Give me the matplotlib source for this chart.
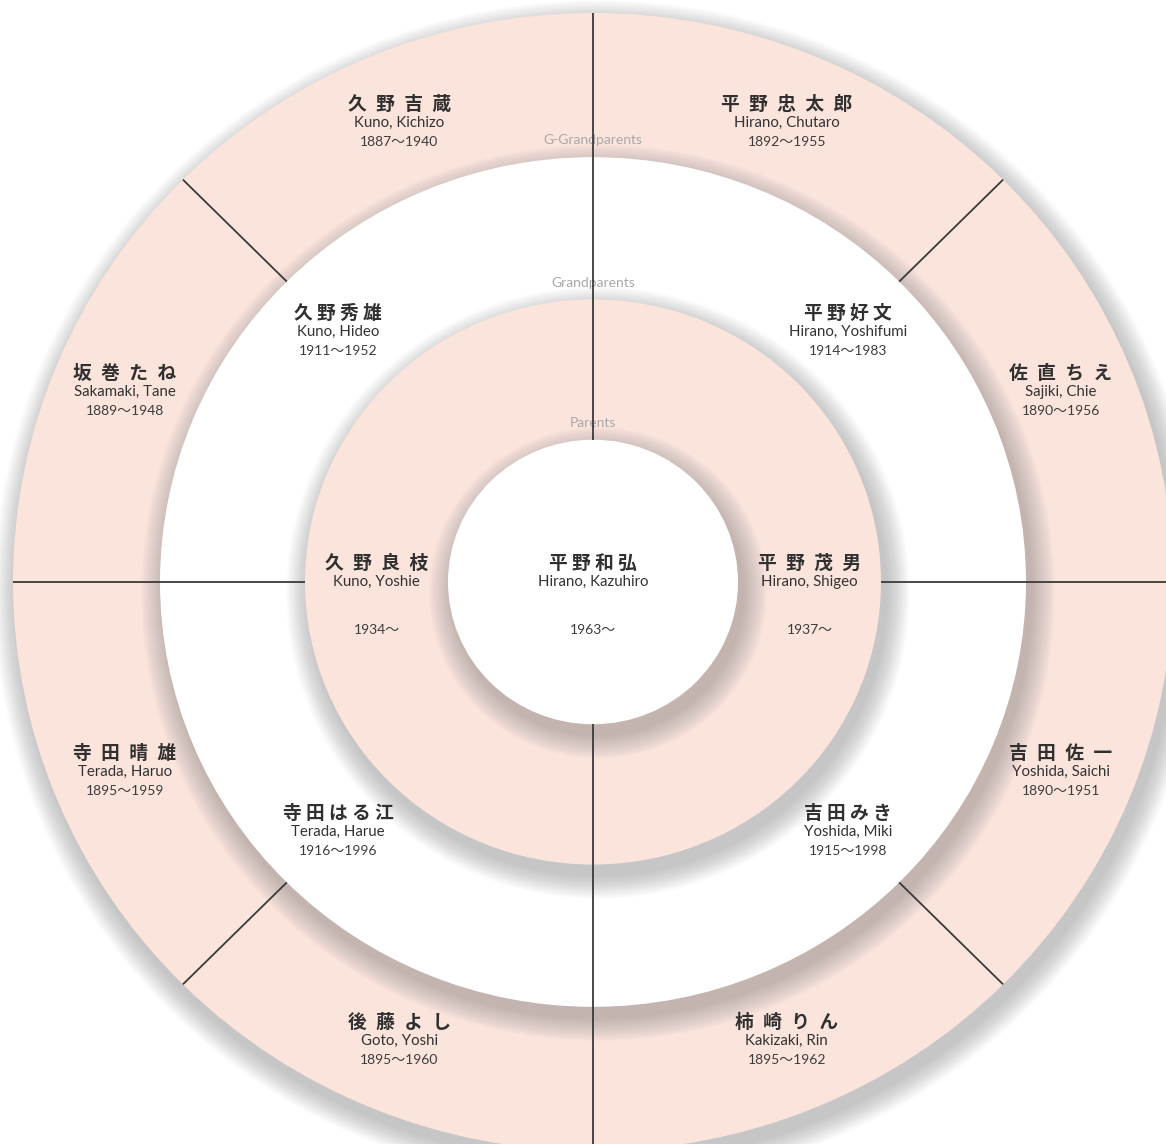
import numpy as np
import matplotlib
matplotlib.use('Agg')
from matplotlib import pyplot as plt
from matplotlib.patches import Circle

# ---DATA--- #
# ring radii: centre disc, parents, grandparents, great-grandparents
ring_r = [145, 288, 433, 580]
ring_fill = ['#fae4dc', 'white', '#fae4dc', 'white']   # outer -> inner
ring_labels = ['Parents', 'Grandparents', 'G-Grandparents']

self_jp = '平野和弘'
self_en = 'Hirano, Kazuhiro'
self_years = '1963〜'

# slots go counter-clockwise starting at 12 o'clock
parents_jp = ['久野良枝', '平野茂男']
parents_en = ['Kuno, Yoshie', 'Hirano, Shigeo']
parents_years = ['1934〜', '1937〜']

grand_jp = ['久野秀雄', '寺田はる江', '吉田みき', '平野好文']
grand_en = ['Kuno, Hideo', 'Terada, Harue', 'Yoshida, Miki', 'Hirano, Yoshifumi']
grand_years = ['1911〜1952', '1916〜1996', '1915〜1998', '1914〜1983']

ggrand_jp = ['久野吉蔵', '坂巻たね', '寺田晴雄', '後藤よし',
             '柿崎りん', '吉田佐一', '佐直ちえ', '平野忠太郎']
ggrand_en = ['Kuno, Kichizo', 'Sakamaki, Tane', 'Terada, Haruo', 'Goto, Yoshi',
             'Kakizaki, Rin', 'Yoshida, Saichi', 'Sajiki, Chie', 'Hirano, Chutaro']
ggrand_years = ['1887〜1940', '1889〜1948', '1895〜1959', '1895〜1960',
                '1895〜1962', '1890〜1951', '1890〜1956', '1892〜1955']

JP = ['Noto Sans CJK JP', 'DejaVu Sans']
EN = ['Lato', 'Noto Sans CJK JP', 'DejaVu Sans']

# ---FIGURE--- #
fig = plt.figure(figsize=(11.66, 11.44), dpi=100)
ax = fig.add_axes([0, 0, 1, 1])
sq = 1144 / 1166
ax.set_xlim(-593, 573)
ax.set_ylim(-562 / sq, 582 / sq)
ax.axis('off')


def disc(r, color, z):
    # soft drop shadow (down-right), then the disc itself
    n = 22
    for k in range(n):
        s = 24 * (1 - k / n)
        ax.add_patch(Circle((5, -11), r + s, color='#5a5a5a', alpha=0.017, lw=0, zorder=z))
    ax.add_patch(Circle((0, 0), r, color=color, lw=0, zorder=z + 0.5))


for j, (r, c) in enumerate(zip(ring_r[::-1], ring_fill)):
    disc(r, c, 1 + j)


def person(x, y, jp, en, yrs, sep, gap):
    ax.text(x, y + 19, sep.join(jp), ha='center', va='center', fontsize=13.5,
            family=JP, fontweight='semibold', color='#303030', zorder=10)
    ax.text(x, y, en, ha='center', va='center', fontsize=10.8,
            family=EN, color='#333333', zorder=10)
    ax.text(x, y - gap, yrs, ha='center', va='center', fontsize=10,
            family=EN, color='#3c3c3c', zorder=10)


person(0, 0, self_jp, self_en, self_years, ' ', 49)

gens = [(parents_jp, parents_en, parents_years, '\u2002', 49),
        (grand_jp, grand_en, grand_years, ' ', 19.5),
        (ggrand_jp, ggrand_en, ggrand_years, '\u2002', 19.5)]

for g, (jps, ens, yrs, sep, gap) in enumerate(gens, start=1):
    n = len(jps)
    rm = (ring_r[g - 1] + ring_r[g]) / 2
    for i in range(n):
        a = np.deg2rad(90 + (i + 0.5) * 360 / n)
        person(rm * np.cos(a), rm * np.sin(a), jps[i], ens[i], yrs[i], sep, gap)
    # slot dividers
    for i in range(n):
        a = np.deg2rad(90 + i * 360 / n)
        ax.plot([ring_r[g - 1] * np.cos(a), ring_r[g] * np.cos(a)],
                [ring_r[g - 1] * np.sin(a), ring_r[g] * np.sin(a)],
                color='#3a3a3a', lw=1.3, zorder=12, solid_capstyle='butt')

for lab, r in zip(ring_labels, ring_r[:3]):
    ax.text(0, r + 17, lab, ha='center', va='center', fontsize=10,
            family=EN, color='#a8a8a8', zorder=11)

fig.savefig('out.png', dpi=100)
